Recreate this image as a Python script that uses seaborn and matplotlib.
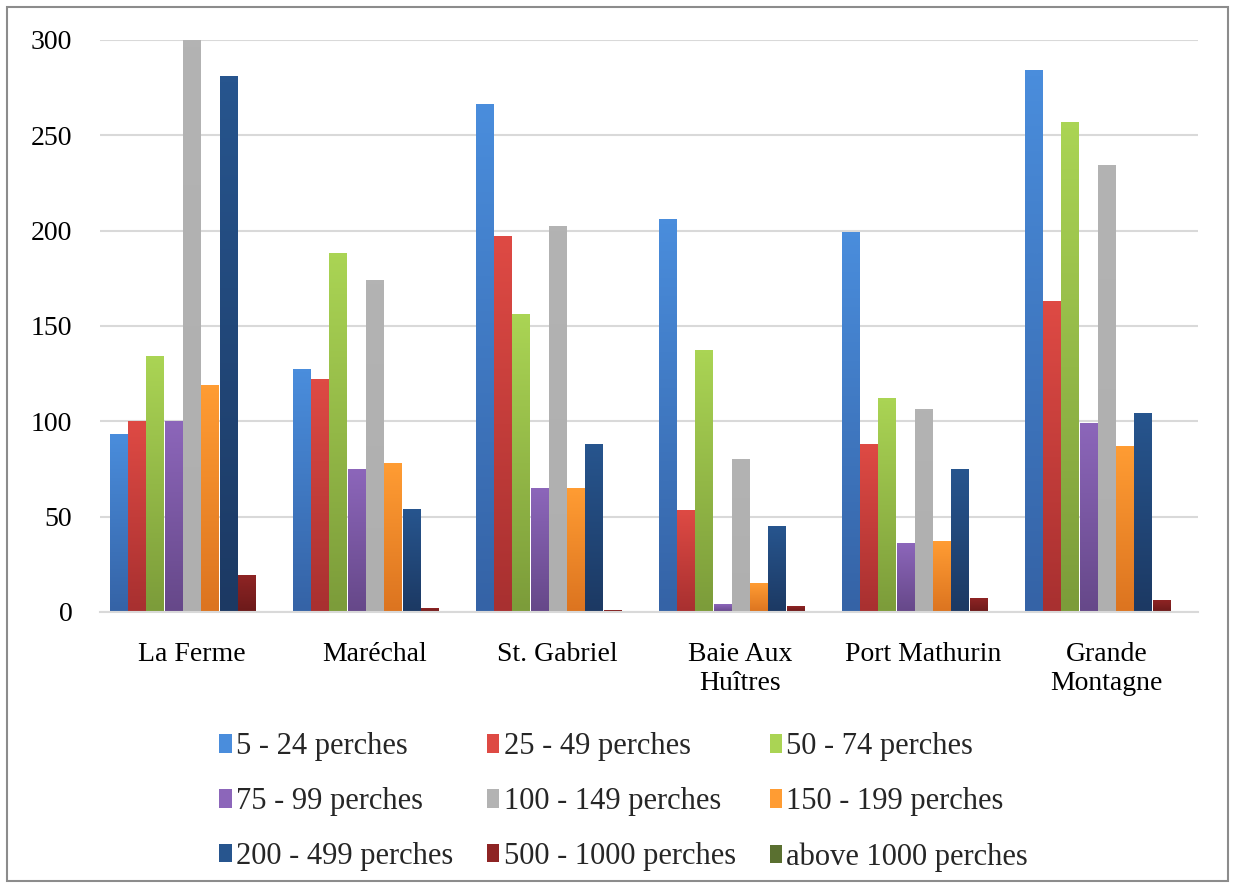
import numpy as np
import pandas as pd
import matplotlib
matplotlib.use("Agg")
import matplotlib.pyplot as plt
from matplotlib.colors import LinearSegmentedColormap
from matplotlib.patches import Patch, Rectangle
import seaborn as sns

areas = ["La Ferme", "Maréchal", "St. Gabriel", "Baie Aux\nHuîtres", "Port Mathurin", "Grande\nMontagne"]
sizes = ["5 - 24 perches", "25 - 49 perches", "50 - 74 perches",
         "75 - 99 perches", "100 - 149 perches", "150 - 199 perches",
         "200 - 499 perches", "500 - 1000 perches", "above 1000 perches"]

p5_24 = [93, 127, 266, 206, 199, 284]
p25_49 = [100, 122, 197, 53, 88, 163]
p50_74 = [134, 188, 156, 137, 112, 257]
p75_99 = [100, 75, 65, 4, 36, 99]
p100_149 = [300, 174, 202, 80, 106, 234]
p150_199 = [119, 78, 65, 15, 37, 87]
p200_499 = [281, 54, 88, 45, 75, 104]
p500_1000 = [19, 2, 1, 3, 7, 6]
above_1000 = [0, 0, 0, 0, 0, 0]

series = [p5_24, p25_49, p50_74, p75_99, p100_149, p150_199, p200_499, p500_1000, above_1000]

# top / bottom colours of the gradient fill
top_colors = ["#4a8ddc", "#de4a44", "#aad454", "#8c66ba", "#b3b3b3", "#ff9c33", "#27558e", "#8e2424", "#5a7030"]
bottom_colors = ["#3563a6", "#a83030", "#7c9c3a", "#664889", "#afafaf", "#dc7420", "#1c3963", "#6c1a1a", "#4f6228"]

df = pd.DataFrame({
    "Area": np.repeat(areas, len(sizes)),
    "Size": sizes * len(areas),
    "Count": [series[j][i] for i in range(len(areas)) for j in range(len(sizes))],
})

sns.set_style("white")
plt.rcParams["font.family"] = ["Liberation Serif", "DejaVu Serif"]

fig = plt.figure(figsize=(12.35, 8.88), dpi=100)
ax = fig.add_axes([0.081, 0.311, 0.889, 0.644])

sns.barplot(data=df, x="Area", y="Count", hue="Size", order=areas, hue_order=sizes,
            palette=top_colors, width=0.9, gap=0.06, legend=False, ax=ax)

# Excel-like vertical gradient on each bar
for i, cont in enumerate(ax.containers):
    cmap = LinearSegmentedColormap.from_list("g%d" % i, [bottom_colors[i], top_colors[i]])
    for bar in cont:
        h = bar.get_height()
        if h <= 0:
            continue
        x0, w = bar.get_x(), bar.get_width()
        grad = np.linspace(0, 1, 64).reshape(-1, 1)
        ax.imshow(grad, extent=[x0, x0 + w, 0, h], origin="lower", cmap=cmap,
                  aspect="auto", zorder=2, interpolation="bilinear")
        bar.set_visible(False)

ax.set_xlim(-0.5, len(areas) - 0.5)
ax.set_ylim(0, 300)
ax.set_yticks(range(0, 301, 50))
ax.yaxis.grid(True, color="#d9d9d9", linewidth=1.5)
ax.set_axisbelow(True)
for s in ["top", "right", "left"]:
    ax.spines[s].set_visible(False)
ax.spines["bottom"].set_color("#d9d9d9")
ax.spines["bottom"].set_linewidth(1.5)
ax.tick_params(axis="both", length=0, labelsize=20, colors="#000000")
ax.tick_params(axis="y", pad=20)
ax.tick_params(axis="x", pad=22)
ax.set_xlabel("")
ax.set_ylabel("")

# legend filled row by row
order = [0, 3, 6, 1, 4, 7, 2, 5, 8]
handles = [Patch(facecolor=top_colors[k], edgecolor="none") for k in order]
labels = [sizes[k] for k in order]
fig.legend(handles, labels, loc="center", bbox_to_anchor=(0.505, 0.097), ncol=3,
           frameon=False, fontsize=22, handlelength=0.4, handleheight=0.55,
           handletextpad=0.15, columnspacing=1.1, labelspacing=0.85)

fig.patches.append(Rectangle((0.006, 0.008), 0.988, 0.984, transform=fig.transFigure,
                             fill=False, edgecolor="#8c8c8c", linewidth=1.5))

fig.savefig("out.png", dpi=100)
